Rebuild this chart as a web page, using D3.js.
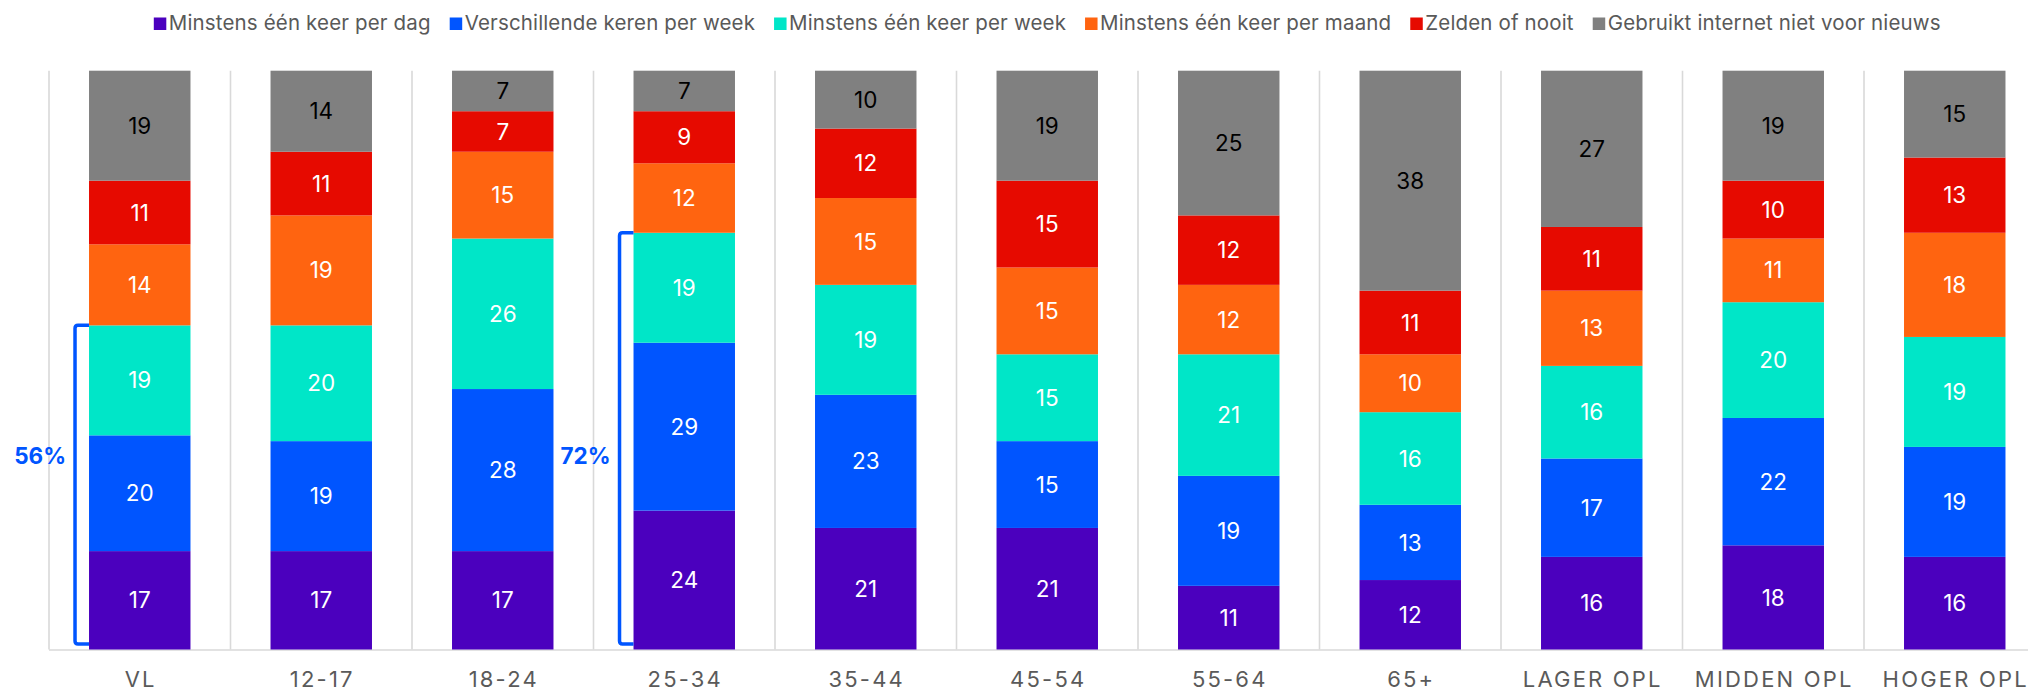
<!DOCTYPE html>
<html>
<head>
<meta charset="utf-8">
<script src="https://cdn.jsdelivr.net/npm/d3@7/dist/d3.min.js"></script>
<style>
  html, body { margin: 0; padding: 0; background: #fff; }
  svg { display: block; }
  text { font-family: Inter, "Liberation Sans", Arial, sans-serif; }
</style>
</head>
<body>
<svg id="chart" width="2028" height="690"></svg>
<script>
// ---- data ----
const categories = ["VL", "12-17", "18-24", "25-34", "35-44", "45-54", "55-64", "65+", "LAGER OPL", "MIDDEN OPL", "HOGER OPL"];
const seriesNames = [
  "Minstens één keer per dag",
  "Verschillende keren per week",
  "Minstens één keer per week",
  "Minstens één keer per maand",
  "Zelden of nooit",
  "Gebruikt internet niet voor nieuws"
];
const perDag        = [17, 17, 17, 24, 21, 21, 11, 12, 16, 18, 16];
const verschillend  = [20, 19, 28, 29, 23, 15, 19, 13, 17, 22, 19];
const perWeek       = [19, 20, 26, 19, 19, 15, 21, 16, 16, 20, 19];
const perMaand      = [14, 19, 15, 12, 15, 15, 12, 10, 13, 11, 18];
const zelden        = [11, 11,  7,  9, 12, 15, 12, 11, 11, 10, 13];
const nietNieuws    = [19, 14,  7,  7, 10, 19, 25, 38, 27, 19, 15];
const bracketCats   = ["VL", "25-34"];
const bracketTotals = [56, 72];
const bracketLabels = ["56%", "72%"];

const seriesValues = [perDag, verschillend, perWeek, perMaand, zelden, nietNieuws];
const colors = ["#4b00be", "#0055ff", "#00e6c8", "#ff6410", "#e60a00", "#808080"];
const labelColors = ["#fff", "#fff", "#fff", "#fff", "#fff", "#000"];

// ---- build table ----
const keys = seriesNames;
const table = categories.map((c, i) => {
  const row = { cat: c };
  keys.forEach((k, j) => row[k] = seriesValues[j][i]);
  return row;
});
const stacked = d3.stack().keys(keys)(table);

// ---- layout ----
const svg = d3.select("#chart");
const plotLeft = 49, step = 181.5;
const x = d3.scaleBand()
  .domain(categories)
  .range([plotLeft, plotLeft + step * categories.length])
  .paddingInner(0.441)
  .paddingOuter(0.2205);
const y = d3.scaleLinear().domain([0, 100]).range([649.5, 70.7]);

// gridlines (band boundaries)
const gridG = svg.append("g");
categories.forEach((c, i) => {
  const gx = plotLeft + i * x.step();
  gridG.append("line")
    .attr("x1", gx).attr("x2", gx)
    .attr("y1", y(100)).attr("y2", y(0))
    .attr("stroke", "#d9d9d9").attr("stroke-width", 1.6);
});
// baseline
svg.append("line")
  .attr("x1", plotLeft).attr("x2", 2028)
  .attr("y1", y(0) + 0.5).attr("y2", y(0) + 0.5)
  .attr("stroke", "#d9d9d9").attr("stroke-width", 1.6);

// bars
const layers = svg.append("g").selectAll("g")
  .data(stacked).join("g")
  .attr("fill", (d, i) => colors[i]);

layers.selectAll("rect")
  .data(d => d.map(v => ({ v, cat: v.data.cat })))
  .join("rect")
  .attr("x", d => x(d.cat))
  .attr("width", x.bandwidth())
  .attr("y", d => y(d.v[1]))
  .attr("height", d => y(d.v[0]) - y(d.v[1]));

// value labels
const labelG = svg.append("g");
stacked.forEach((s, i) => {
  labelG.selectAll(null)
    .data(s).join("text")
    .attr("x", d => x(d.data.cat) + x.bandwidth() / 2)
    .attr("y", d => (y(d[0]) + y(d[1])) / 2)
    .attr("dy", "0.36em")
    .attr("text-anchor", "middle")
    .attr("font-size", 22.5)
    .attr("fill", labelColors[i])
    .text(d => d[1] - d[0]);
});

// brackets
bracketCats.forEach((c, i) => {
  const bx = x(c) - 14;
  const yTop = y(bracketTotals[i]);
  const yBot = y(0) - 5.5;
  const r = 3;
  svg.append("path")
    .attr("d", `M${x(c)},${yTop}H${bx + r}Q${bx},${yTop} ${bx},${yTop + r}V${yBot - r}Q${bx},${yBot} ${bx + r},${yBot}H${x(c)}`)
    .attr("fill", "none")
    .attr("stroke", "#0055ff")
    .attr("stroke-width", 3.5);
  svg.append("text")
    .attr("x", bx - 9)
    .attr("y", y(33.5))
    .attr("dy", "0.36em")
    .attr("text-anchor", "end")
    .attr("font-size", 22.5)
    .attr("font-weight", 700)
    .attr("fill", "#0055ff")
    .text(bracketLabels[i]);
});

// x axis labels
const xAxis = d3.axisBottom(x).tickSize(0).tickPadding(0);
const ax = svg.append("g").attr("transform", `translate(0,${y(0)})`).call(xAxis);
ax.select(".domain").remove();
ax.selectAll("text")
  .attr("y", 37)
  .attr("dy", 0)
  .attr("dx", 1)
  .attr("font-size", 22)
  .attr("font-family", "Inter, 'Liberation Sans', Arial, sans-serif")
  .attr("letter-spacing", 2.2)
  .attr("fill", "#5a5a5a");

// legend
const legend = svg.append("g");
let cursor = 0;
seriesNames.forEach((name, i) => {
  const g = legend.append("g");
  g.append("rect").attr("x", 0).attr("y", -12.5).attr("width", 12.5).attr("height", 12.5).attr("fill", colors[i]);
  const t = g.append("text").attr("x", 15).attr("y", 0).attr("font-size", 20.5)
    .attr("letter-spacing", 0.15)
    .attr("fill", "#595959").text(name);
  const w = t.node().getComputedTextLength();
  g.attr("transform", `translate(${cursor},0)`);
  cursor += 15 + w + 19;
});
const totalW = cursor - 19;
const center = (x.range()[0] + x.range()[1]) / 2;
legend.attr("transform", `translate(${center - totalW / 2},30)`);
</script>
</body>
</html>
